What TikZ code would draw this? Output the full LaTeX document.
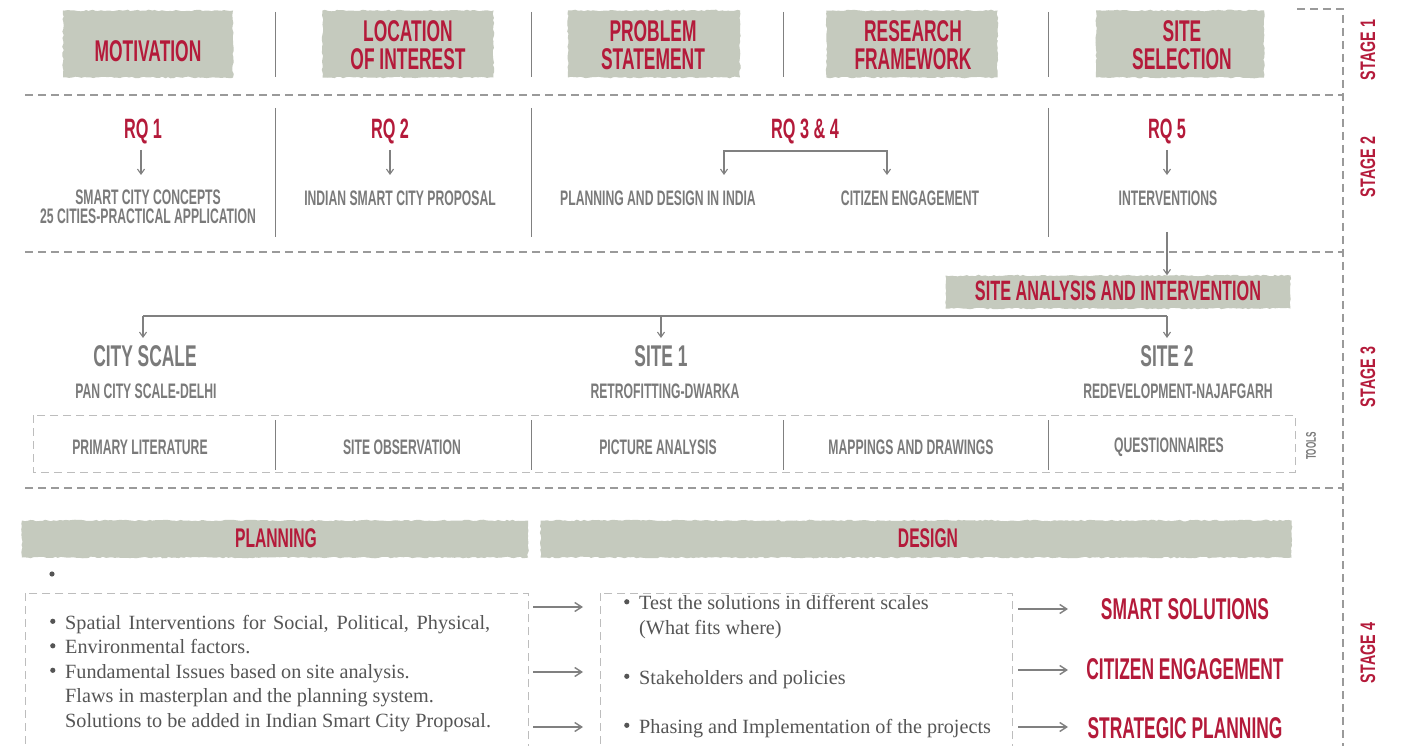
\documentclass[tikz,border=0pt]{standalone}
\usepackage{fontspec}
\setmainfont{Liberation Serif}
\newfontfamily\cnd[FakeStretch=0.58]{Liberation Sans}
\newfontfamily\stg[FakeStretch=0.68]{Liberation Sans}
\usetikzlibrary{arrows.meta,decorations.pathmorphing}

\definecolor{crim}{HTML}{B41A3A}
\definecolor{txtgray}{HTML}{7A7A7A}
\definecolor{bodygray}{HTML}{555555}
\definecolor{linegray}{HTML}{808080}
\definecolor{dashgray}{HTML}{9A9A9A}
\definecolor{lightdash}{HTML}{BDBDBD}
\definecolor{bandfill}{HTML}{C5CABE}

% round list bullet
\newcommand\blt{\makebox[15pt][l]{\raisebox{0.55ex}{\tikz\fill[bodygray] (0,0) circle (2.6pt);}}}

\tikzset{
  band/.style={fill=bandfill, draw=none, inner sep=0pt,
    decorate, decoration={random steps, segment length=3pt, amplitude=0.8pt}},
  head/.style={text=crim, inner sep=0pt, align=center,
    font=\cnd\bfseries\fontsize{30}{28}\selectfont},
  rq/.style={text=crim, inner sep=0pt, font=\cnd\bfseries\fontsize{28}{28}\selectfont},
  sub/.style={text=txtgray, inner sep=0pt, align=center,
    font=\cnd\bfseries\fontsize{21}{19}\selectfont},
  big/.style={text=txtgray, inner sep=0pt, font=\cnd\bfseries\fontsize{30}{30}\selectfont},
  outcome/.style={text=crim, inner sep=0pt, font=\cnd\bfseries\fontsize{30}{30}\selectfont},
  stagelbl/.style={text=crim, inner sep=0pt, rotate=90, font=\stg\bfseries\fontsize{21}{21}\selectfont},
  body/.style={text=bodygray, inner sep=0pt, anchor=base west, align=left,
    font=\fontsize{20.2}{24.5}\selectfont},
  sep/.style={draw=linegray, line width=0.9pt},
  dsh/.style={draw=dashgray, line width=1.3pt, dash pattern=on 8pt off 5pt},
  ldsh/.style={draw=lightdash, line width=1pt, dash pattern=on 8pt off 5pt},
  conn/.style={draw=linegray, line width=1.1pt, -{Straight Barb[length=5pt,width=7pt]}},
  fconn/.style={draw=linegray, line width=1.4pt, -{Straight Barb[length=7pt,width=9pt]}},
}

\begin{document}
\begin{tikzpicture}[x=1pt,y=-1pt]
\pgfmathsetseed{7}
\useasboundingbox (0,0) rectangle (1401,746);
\fill[white] (0,0) rectangle (1401,746);

% ---------------- frame of the stages
\draw[dsh] (1297,9) -- (1343,9) -- (1343,746);
\draw[dsh] (25,95) -- (1343,95);
\draw[dsh] (25,252) -- (1343,252);
\draw[dsh] (25,488) -- (1343,488);

\node[stagelbl] (st1) at (1368,50) {STAGE 1};
\node[stagelbl] (st2) at (1368,167) {STAGE 2};
\node[stagelbl] (st3) at (1368,377) {STAGE 3};
\node[stagelbl] (st4) at (1368,653) {STAGE 4};

% ---------------- stage 1: headings on grey bands
\node[band, minimum width=170pt, minimum height=67pt] (b1) at (148,44) {};
\node[band, minimum width=171pt, minimum height=67pt] (b2) at (408,44) {};
\node[band, minimum width=172pt, minimum height=67pt] (b3) at (654,44) {};
\node[band, minimum width=171pt, minimum height=67pt] (b4) at (912,44) {};
\node[band, minimum width=168pt, minimum height=67pt] (b5) at (1180,44) {};

\node[head] (motiv) at (148,51) {MOTIVATION};
\node[head] (loc) at (408,45) {LOCATION\\OF INTEREST};
\node[head] (prob) at (653,45) {PROBLEM\\STATEMENT};
\node[head] (resf) at (913,45) {RESEARCH\\FRAMEWORK};
\node[head] (sitesel) at (1182,45) {SITE\\SELECTION};

\foreach \x in {275,531,783,1048} \draw[sep] (\x,12) -- (\x,77);

% ---------------- stage 2: research questions
\foreach \x in {275,531,1048} \draw[sep] (\x,108) -- (\x,237);

\node[rq] (rq1) at (143,131) {RQ 1};
\node[rq] (rq2) at (390,131) {RQ 2};
\node[rq] (rq34) at (805,131) {RQ 3 \& 4};
\node[rq] (rq5) at (1167,131) {RQ 5};

\node[sub] (scc) at (148,207) {SMART CITY CONCEPTS\\25 CITIES-PRACTICAL APPLICATION};
\node[sub] (iscp) at (400,198) {INDIAN SMART CITY PROPOSAL};
\node[sub] (pdi) at (658,198) {PLANNING AND DESIGN IN INDIA};
\node[sub] (ce) at (910,198) {CITIZEN ENGAGEMENT};
\node[sub] (intv) at (1168,198) {INTERVENTIONS};

\coordinate (a1) at (141,150);
\coordinate (a2) at (390,150);
\coordinate (a5) at (1167,150);
\draw[conn] (a1) -- (141,175);
\draw[conn] (a2) -- (390,175);
\draw[conn] (a5) -- (1167,175);

\coordinate (brL) at (724,151);
\coordinate (brR) at (887,151);
\draw[draw=linegray, line width=1.1pt,
  {Straight Barb[length=5pt,width=7pt]}-{Straight Barb[length=5pt,width=7pt]}]
  (724,175) -- (brL) -- (brR) -- (887,175);

% ---------------- stage 3: site analysis
\node[band, minimum width=345pt, minimum height=33pt] (sai) at (1118,292) {};
\node[head, font=\cnd\bfseries\fontsize{28}{28}\selectfont] (saitxt) at (1118,291) {SITE ANALYSIS AND INTERVENTION};

\coordinate (iv) at (1167,232);
\draw[conn] (iv) -- (iv |- sai.north);

\coordinate (busL) at (143,316);
\coordinate (busM) at (661,316);
\coordinate (busR) at (1167,316);
\draw[draw=linegray, line width=1.1pt] (busL) -- (busR);

\node[big] (city) at (145,356) {CITY SCALE};
\node[big] (site1) at (661,356) {SITE 1};
\node[big] (site2) at (1167,356) {SITE 2};

\draw[conn] (busL) -- (busL |- 0,338);
\draw[conn] (busM) -- (busM |- 0,338);
\draw[conn] (busR) -- (busR |- 0,338);

\node[sub] (pan) at (146,391) {PAN CITY SCALE-DELHI};
\node[sub] (retro) at (665,391) {RETROFITTING-DWARKA};
\node[sub] (redev) at (1178,391) {REDEVELOPMENT-NAJAFGARH};

% tools strip
\draw[ldsh] (33,415) rectangle (1295,472);
\foreach \x in {275,531,783,1048} \draw[sep] (\x,420) -- (\x,470);
\node[sub] (t1) at (140,447) {PRIMARY LITERATURE};
\node[sub] (t2) at (402,447) {SITE OBSERVATION};
\node[sub] (t3) at (658,447) {PICTURE ANALYSIS};
\node[sub] (t4) at (911,447) {MAPPINGS AND DRAWINGS};
\node[sub] (t5) at (1169,447) {QUESTIONNAIRES};
\node[text=txtgray, rotate=90, inner sep=0pt, font=\cnd\bfseries\fontsize{14}{14}\selectfont] (tools) at (1311,446) {TOOLS};

% ---------------- stage 4: planning and design
\node[band, minimum width=506pt, minimum height=37pt] (plan) at (275,539) {};
\node[band, minimum width=751pt, minimum height=37pt] (design) at (916,539) {};
\node[head, font=\cnd\bfseries\fontsize{27}{27}\selectfont] (plantxt) at (276,538) {PLANNING};
\node[head, font=\cnd\bfseries\fontsize{27}{27}\selectfont] (destxt) at (928,538) {DESIGN};

\fill[bodygray] (52,574) circle (2.6pt);

\draw[ldsh] (25,593) rectangle (528,746);
\draw[ldsh] (600,593) rectangle (1012,746);

% base anchor of a multi-line node is the baseline of its last line
\node[body] (pl) at (50,727) {%
  \blt\makebox[425pt][s]{Spatial Interventions for Social, Political, Physical,}\\
  \blt Environmental factors.\\
  \blt Fundamental Issues based on site analysis.\\
  \hspace*{15pt}Flaws in masterplan and the planning system.\\
  \hspace*{15pt}Solutions to be added in Indian Smart City Proposal.};

\node[body] (d1) at (624,634) {%
  \blt Test the solutions in different scales\\
  \hspace*{15pt}(What fits where)};
\node[body] (d2) at (624,684) {\blt Stakeholders and policies};
\node[body] (d3) at (624,733) {\blt Phasing and Implementation of the projects};

\coordinate (l1) at (533,607);
\coordinate (l2) at (533,672);
\coordinate (l3) at (533,727);
\draw[fconn] (l1) -- (l1 -| 583,0);
\draw[fconn] (l2) -- (l2 -| 583,0);
\draw[fconn] (l3) -- (l3 -| 583,0);

\node[outcome] (ss) at (1185,609) {SMART SOLUTIONS};
\node[outcome] (cen) at (1185,669) {CITIZEN ENGAGEMENT};
\node[outcome] (sp) at (1185,728) {STRATEGIC PLANNING};

\coordinate (r1) at (1018,609);
\coordinate (r2) at (1018,670);
\coordinate (r3) at (1018,727);
\draw[fconn] (r1) -- (r1 -| 1068,0);
\draw[fconn] (r2) -- (r2 -| 1068,0);
\draw[fconn] (r3) -- (r3 -| 1068,0);
\end{tikzpicture}
\end{document}
